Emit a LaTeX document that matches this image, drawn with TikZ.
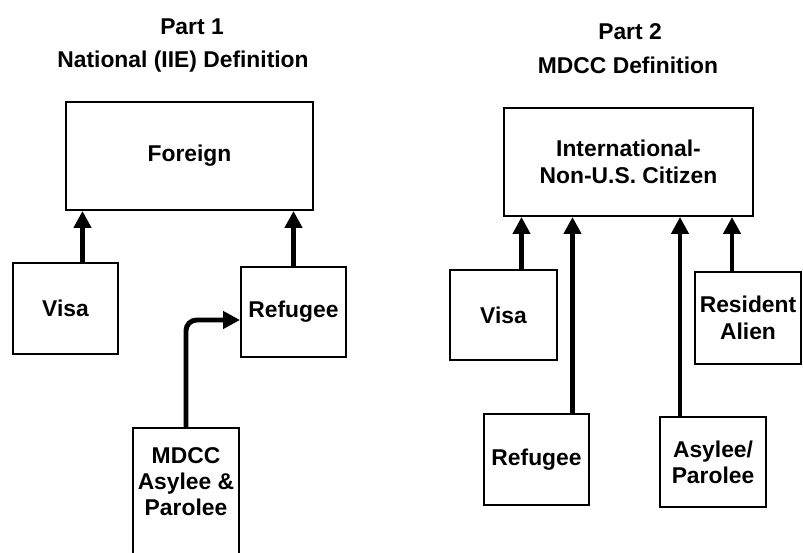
\documentclass[tikz,border=0pt]{standalone}
\usepackage{fontspec}
\setmainfont{Liberation Sans}
\usepackage{tikz}
\usetikzlibrary{positioning}
\usetikzlibrary{calc,arrows.meta}

\begin{document}
\begin{tikzpicture}[
    x=0.02cm, y=-0.02cm,
    kasten/.style={rectangle, draw=black, line width=1.1pt, align=center, inner sep=2pt,
    font=\fontsize{13}{15}\selectfont\bfseries},
    titel/.style={inner sep=0pt, font=\fontsize{13}{15}\selectfont\bfseries},
    pfeil/.style={-{Triangle[length=0.34cm, width=0.34cm]}, line width=2.8pt}
    ]
\useasboundingbox (0,0) rectangle (803,552);
\clip (0,0) rectangle (803,552);

%Part 1, left
\node[titel] (titel1) at (192,27) {Part 1};
\node[titel] (untertitel1) at (183,62) {National (IIE) Definition};
\node[kasten, minimum width=4.94cm, minimum height=2.16cm] (foreign) at (189.5,156) {Foreign};
\node[kasten, minimum width=2.1cm, minimum height=1.82cm] (visa1) at (65.5,308.5) {Visa};
\node[kasten, minimum width=2.1cm, minimum height=1.8cm] (refugee1) at (293.5,312) {Refugee};
\node[kasten, anchor=north, minimum width=2.12cm, inner ysep=11pt, text depth=3cm] (mdcc) at (186,427) {MDCC\\Asylee \&\\Parolee};

\draw[pfeil] ($(visa1.north)+(17,0)$) coordinate (v1) -- (v1 |- foreign.south);
\draw[pfeil] (refugee1.north) -- (refugee1.north |- foreign.south);
\draw[pfeil, rounded corners=6pt] (mdcc.north) |- ([yshift=-0.16cm]refugee1.west);

%Part 2, right
\node[titel] (titel2) at (630,32) {Part 2};
\node[titel] (untertitel2) at (628,65) {MDCC Definition};
\node[kasten, minimum width=4.98cm, minimum height=2.16cm] (intl) at (628.5,162) {International-\\Non-U.S. Citizen};
\node[kasten, minimum width=2.14cm, minimum height=1.8cm] (visa2) at (503.5,315) {Visa};
\node[kasten, minimum width=2.1cm, minimum height=1.82cm] (refugee2) at (536.5,459.5) {Refugee};
\node[kasten, minimum width=2.12cm, minimum height=1.8cm] (asylee2) at (713,462) {Asylee/\\Parolee};
\node[kasten, minimum width=2.12cm, minimum height=1.84cm] (resident) at (748,318) {Resident\\Alien};

\draw[pfeil] ($(visa2.north)+(18,0)$) coordinate (v2) -- (v2 |- intl.south);
\draw[pfeil] ($(refugee2.north)+(36,0)$) coordinate (r2) -- (r2 |- intl.south);
\draw[pfeil] ($(asylee2.north)+(-33,0)$) coordinate (a2) -- (a2 |- intl.south);
\draw[pfeil] ($(resident.north)+(-16,0)$) coordinate (ra) -- (ra |- intl.south);
\end{tikzpicture}
\end{document}
